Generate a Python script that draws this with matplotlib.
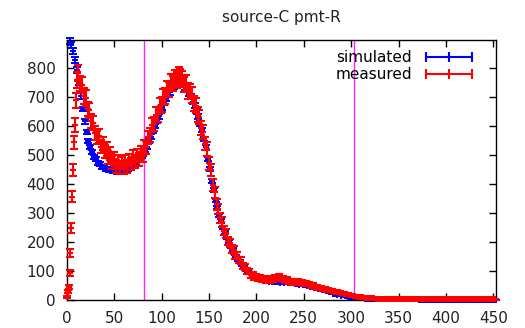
import matplotlib
matplotlib.use('Agg')
import matplotlib.pyplot as plt
from matplotlib.lines import Line2D
import numpy as np

# measured (red): first bins one by one, then every 2nd bin
meas_x = list(range(0, 12)) + list(range(12, 453, 2))
meas_y = [10, 28, 45, 93, 162, 249, 357, 450, 545, 605, 690, 760,
          785, 748, 742, 705, 698, 660, 655, 618, 612, 578,
          562, 568, 530, 541, 512, 522, 492, 505, 476, 488,
          462, 478, 455, 473, 458, 478, 462, 484, 470, 495,
          478, 500, 485, 510, 498, 530, 528, 562, 570, 605,
          608, 640, 642, 672, 676, 702, 705, 730, 728, 752,
          748, 768, 760, 778, 770, 765, 745, 750, 722, 720,
          708, 678, 672, 640, 632, 595, 582, 540, 522, 472,
          450, 398, 372, 330, 315, 284, 270, 240, 230, 204,
          198, 176, 172, 154, 153, 138, 136, 118, 115, 100,
          98, 86, 88, 78, 82, 74, 78, 70, 75, 68,
          72, 67, 74, 70, 78, 74, 80, 73, 75, 68,
          70, 64, 66, 61, 64, 59, 63, 60, 62, 57,
          58, 54, 55, 50, 50, 46, 46, 42, 42, 37,
          38, 35, 35, 32, 32, 29, 29, 26, 26, 23,
          22, 20, 20, 17, 17, 15, 14, 12, 12, 10,
          9, 8, 8, 7, 7, 6, 6, 5, 5, 5,
          4, 5, 4, 4, 4, 3, 4, 3, 3, 3,
          3, 3, 2, 3, 3, 2, 3, 3, 2, 3,
          3, 3, 2, 3, 3, 2, 3, 3, 2, 3,
          3, 3, 2, 3, 3, 2, 3, 3, 2, 3,
          3, 3, 2, 3, 3, 2, 3, 3, 2, 3,
          3, 3, 2, 3, 3, 2, 3, 3, 2, 3,
          3]

# simulated (blue), every 2nd bin
sim_x = list(range(3, 454, 2))
sim_y = [895, 880, 860, 830, 795, 752, 705, 660, 618, 580,
         550, 528, 512, 494, 486, 474, 470, 461, 460, 453,
         453, 448, 449, 445, 447, 444, 447, 445, 449, 449,
         453, 454, 460, 462, 471, 474, 484, 488, 499, 505,
         519, 530, 549, 564, 586, 601, 621, 635, 654, 666,
         684, 695, 711, 719, 732, 737, 746, 747, 751, 746,
         745, 735, 728, 713, 703, 685, 672, 651, 634, 609,
         587, 556, 527, 488, 453, 412, 379, 344, 319, 292,
         273, 250, 234, 214, 201, 184, 174, 160, 153, 140,
         134, 122, 116, 105, 101, 92, 89, 81, 80, 74,
         74, 69, 68, 65, 66, 63, 64, 62, 63, 61,
         63, 60, 62, 59, 61, 58, 59, 57, 58, 55,
         56, 53, 54, 51, 52, 49, 49, 46, 46, 42,
         42, 38, 38, 34, 34, 30, 30, 26, 26, 22,
         22, 18, 19, 15, 16, 13, 14, 11, 12, 9,
         9, 8, 7, 7, 6, 6, 5, 5, 4, 4,
         4, 3, 3, 3, 3, 3, 2, 2, 2, 2,
         2, 2, 2, 2, 2, 2, 2, 2, 2, 2,
         2, 2, 2, 2, 1, 1, 1, 1, 1, 1,
         1, 1, 1, 1, 1, 1, 1, 1, 1, 1,
         1, 1, 1, 1, 1, 1, 1, 1, 1, 1,
         1, 1, 1, 1, 1, 1, 1, 1, 1, 1,
         1, 1, 1, 1, 1, 1]

cut_lines = [82, 303]

meas_err = np.sqrt(np.array(meas_y, dtype=float))
sim_err = np.sqrt(np.array(sim_y, dtype=float)) / 3.0

plt.rcParams['font.family'] = 'DejaVu Sans'
fig = plt.figure(figsize=(5.25, 3.28), dpi=100)
ax = fig.add_axes([0.127, 0.0854, 0.8183, 0.794])

for xc in cut_lines:
    ax.axvline(xc, color='#ff22ff', lw=1.0, zorder=1)

c1 = ax.errorbar(sim_x, sim_y, yerr=sim_err, fmt='+', color='#0000ff',
                 ms=5, mew=1.4, capsize=2.7, elinewidth=1.4, capthick=1.4, zorder=2)
c2 = ax.errorbar(meas_x, meas_y, yerr=meas_err, fmt='+', color='#ff0000',
                 ms=5, mew=1.5, capsize=2.7, elinewidth=1.5, capthick=1.5, zorder=3)
for c in (c1, c2):
    for art in c.get_children():
        art.set_clip_on(False)

ax.set_xlim(0, 453)
ax.set_ylim(0, 900)
ax.set_xticks(range(0, 451, 50))
ax.set_yticks(range(0, 801, 100))
ax.tick_params(direction='in', length=5, width=1, top=True, right=True,
               labelsize=11, pad=8, colors='black', labelcolor='#222222')
for s in ax.spines.values():
    s.set_linewidth(1)
    s.set_color('black')

ax.set_title('source-C pmt-R', fontsize=11, pad=13, color='#222222')

h1 = Line2D([], [], color='#0000ff', lw=1.5, marker='|', ms=7, mew=1.5)
h2 = Line2D([], [], color='#ff0000', lw=1.5, marker='|', ms=7, mew=1.5)
ax.legend([h1, h2], ['simulated', 'measured'], loc='upper right',
          bbox_to_anchor=(0.953, 0.96), frameon=False, markerfirst=False,
          numpoints=3, handlelength=3.6, handletextpad=0.6, labelspacing=0.15,
          borderpad=0, borderaxespad=0, fontsize=11)

fig.savefig('out.png', dpi=100)
